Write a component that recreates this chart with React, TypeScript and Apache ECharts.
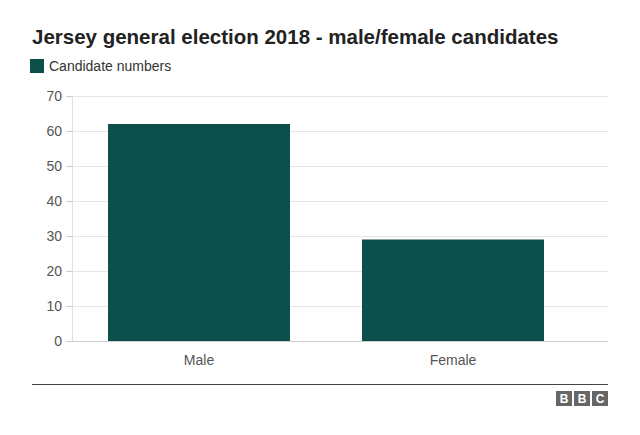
import React, { useEffect, useRef } from "react";
import * as echarts from "echarts";

const categories = ["Male", "Female"];
const candidateNumbers = [62, 29];
const seriesName = "Candidate numbers";
const titleText = "Jersey general election 2018 - male/female candidates";
const yMin = 0;
const yMax = 70;
const yInterval = 10;

export default function App() {
  const ref = useRef<HTMLDivElement>(null);
  useEffect(() => {
    if (!ref.current) return;
    const chart = echarts.init(ref.current, null, { renderer: "svg" });
    const font = "Arial, 'Liberation Sans', Helvetica, sans-serif";
    const bbcBoxes = ["B", "B", "C"].map((ch, i) => ({
      type: "group",
      left: 556 + i * 18,
      top: 391,
      children: [
        { type: "rect", shape: { x: 0, y: 0, width: 16, height: 15 }, style: { fill: "#666" } },
        {
          type: "text",
          x: 8,
          y: 7.5,
          style: { text: ch, fill: "#fff", font: `bold 12px ${font}`, align: "center", verticalAlign: "middle" },
        },
      ],
    }));
    chart.setOption({
      animation: false,
      title: {
        text: titleText,
        left: 32,
        top: 26,
        padding: 0,
        textStyle: { fontFamily: font, fontWeight: "bold", fontSize: 20.5, color: "#222" },
      },
      legend: {
        left: 30,
        top: 59,
        padding: 0,
        itemWidth: 14,
        itemHeight: 14,
        icon: "rect",
        data: [seriesName],
        textStyle: { fontFamily: font, fontSize: 14, color: "#333" },
      },
      grid: [
        { left: 72, right: 32, top: 96, bottom: 94, containLabel: false },
        { left: 72, right: 60, top: 96, bottom: 94, containLabel: false },
      ],
      xAxis: [
        {
          type: "value",
          gridIndex: 0,
          show: false,
        },
        {
          type: "category",
          gridIndex: 1,
          data: categories,
          axisLine: { show: false },
          axisTick: { show: false },
          axisLabel: { fontFamily: font, fontSize: 14, color: "#555", margin: 12 },
        },
      ],
      yAxis: [
        {
          type: "value",
          gridIndex: 0,
          min: yMin,
          max: yMax,
          interval: yInterval,
          axisLine: { show: true, lineStyle: { color: "#e0e0e0" } },
          axisTick: { show: true, length: 6, lineStyle: { color: "#ccc" } },
          splitLine: { show: true, lineStyle: { color: "#e6e6e6" } },
          axisLabel: { fontFamily: font, fontSize: 14, color: "#555", margin: 10 },
        },
        {
          type: "value",
          gridIndex: 1,
          min: yMin,
          max: yMax,
          interval: yInterval,
          show: false,
        },
      ],
      series: [
        {
          name: seriesName,
          type: "bar",
          xAxisIndex: 1,
          yAxisIndex: 1,
          data: candidateNumbers,
          barWidth: 182,
          itemStyle: { color: "#0d4f4b" },
        },
      ],
      graphic: [
        {
          type: "line",
          shape: { x1: 72, y1: 341.5, x2: 608, y2: 341.5 },
          style: { stroke: "#ccc", lineWidth: 1 },
          z: 10,
        },
        {
          type: "line",
          shape: { x1: 32, y1: 384.5, x2: 608, y2: 384.5 },
          style: { stroke: "#444", lineWidth: 1 },
        },
        ...bbcBoxes,
      ],
    });
    return () => chart.dispose();
  }, []);
  return <div ref={ref} style={{ width: 640, height: 435, position: "absolute", left: 0, top: 0 }} />;
}
